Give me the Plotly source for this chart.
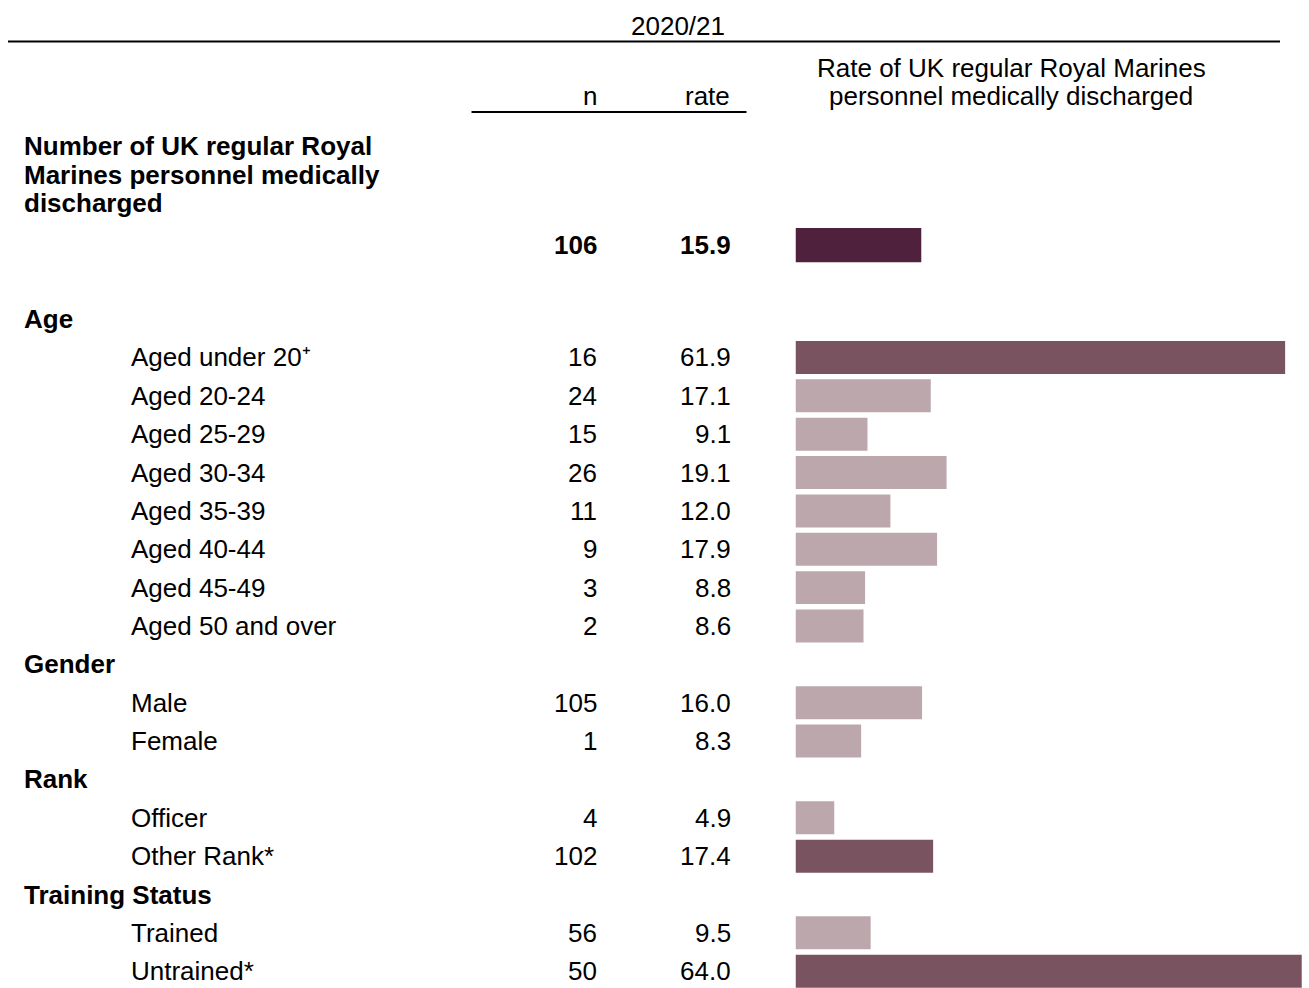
import plotly.graph_objects as go

# ---- data -------------------------------------------------------------
period_label = "2020/21"
chart_title = ["Rate of UK regular Royal Marines", "personnel medically discharged"]
total_title = ["Number of UK regular Royal", "Marines personnel medically", "discharged"]
total_n = 106
total_rate = 15.9

group_names = ["Age", "Gender", "Rank", "Training Status"]

age_labels = ["Aged under 20\u207a", "Aged 20-24", "Aged 25-29", "Aged 30-34",
              "Aged 35-39", "Aged 40-44", "Aged 45-49", "Aged 50 and over"]
age_n = [16, 24, 15, 26, 11, 9, 3, 2]
age_rate = [61.9, 17.1, 9.1, 19.1, 12.0, 17.9, 8.8, 8.6]
age_flag = [True, False, False, False, False, False, False, False]

gender_labels = ["Male", "Female"]
gender_n = [105, 1]
gender_rate = [16.0, 8.3]
gender_flag = [False, False]

rank_labels = ["Officer", "Other Rank*"]
rank_n = [4, 102]
rank_rate = [4.9, 17.4]
rank_flag = [False, True]

training_labels = ["Trained", "Untrained*"]
training_n = [56, 50]
training_rate = [9.5, 64.0]
training_flag = [False, True]

# ---- styling ----------------------------------------------------------
W, H = 1309, 988
FONT = "Liberation Sans, Arial, sans-serif"
FS = 26
C_TOTAL = "#50213C"
C_FLAG = "#795360"
C_BASE = "#BCA8AC"

ROW_PX = 38.36          # vertical pitch of one table row
ROW0_PX = 319.1         # centre of the first group heading
TOTAL_ROW = -1.93       # row slot of the overall figure
BAR_W = 0.86

X_HEAD = 22
X_LABEL = 129
X_N = 599
X_RATE = 733


def px(x):
    return x / W


def py(y):
    return 1 - y / H


groups = [
    (group_names[0], age_labels, age_n, age_rate, age_flag),
    (group_names[1], gender_labels, gender_n, gender_rate, gender_flag),
    (group_names[2], rank_labels, rank_n, rank_rate, rank_flag),
    (group_names[3], training_labels, training_n, training_rate, training_flag),
]

annotations = []


def txt(text, x, y, xanchor="left", yref="paper", bold=False, size=FS):
    annotations.append(dict(
        text=f"<b>{text}</b>" if bold else text,
        x=x, y=y, xref="paper", yref=yref,
        xanchor=xanchor, yanchor="middle", showarrow=False,
        font=dict(family=FONT, size=size, color="black"),
    ))


bar_y, bar_x, bar_c = [], [], []
r = 0
for name, labels, ns, rates, flags in groups:
    txt(name, px(X_HEAD), r, yref="y", bold=True)
    r += 1
    for lab, n, v, f in zip(labels, ns, rates, flags):
        txt(lab, px(X_LABEL), r, yref="y")
        txt(str(n), px(X_N), r, xanchor="right", yref="y")
        txt(f"{v:.1f}", px(X_RATE), r, xanchor="right", yref="y")
        bar_y.append(r)
        bar_x.append(v)
        bar_c.append(C_FLAG if f else C_BASE)
        r += 1

fig = go.Figure()
fig.add_trace(go.Bar(
    x=bar_x, y=bar_y, orientation="h", width=BAR_W,
    marker=dict(color=bar_c, line=dict(width=0)), hoverinfo="skip",
))
fig.add_trace(go.Bar(
    x=[total_rate], y=[TOTAL_ROW], orientation="h", width=0.89,
    marker=dict(color=C_TOTAL, line=dict(width=0)), hoverinfo="skip",
))

# overall row
txt(str(total_n), px(X_N), TOTAL_ROW, xanchor="right", yref="y", bold=True)
txt(f"{total_rate:.1f}", px(X_RATE), TOTAL_ROW, xanchor="right", yref="y", bold=True)
for i, line in enumerate(total_title):
    txt(line, px(X_HEAD), py(146 + 28.5 * i), bold=True)

# header block
txt(period_label, px(678), py(26), xanchor="center")
txt("n", px(X_N), py(96), xanchor="right")
txt("rate", px(X_RATE - 1), py(96), xanchor="right")
txt(chart_title[0], px(1011), py(68), xanchor="center")
txt(chart_title[1], px(1011), py(96), xanchor="center")

shapes = [
    dict(type="line", xref="paper", yref="paper", x0=px(8), x1=px(1280),
         y0=py(41.5), y1=py(41.5), line=dict(color="black", width=2)),
    dict(type="line", xref="paper", yref="paper", x0=px(471.5), x1=px(746.5),
         y0=py(112), y1=py(112), line=dict(color="black", width=2)),
]

y_top = -ROW0_PX / ROW_PX
y_bot = (H - ROW0_PX) / ROW_PX

fig.update_layout(
    width=W, height=H,
    margin=dict(l=0, r=0, t=0, b=0),
    paper_bgcolor="white", plot_bgcolor="white",
    showlegend=False, barmode="overlay",
    xaxis=dict(domain=[795.5 / W, 1], range=[0, (W - 795.5) / 7.91],
               visible=False, fixedrange=True),
    yaxis=dict(domain=[0, 1], range=[y_bot, y_top], visible=False, fixedrange=True),
    annotations=annotations, shapes=shapes,
)

fig.write_html("out.html")
